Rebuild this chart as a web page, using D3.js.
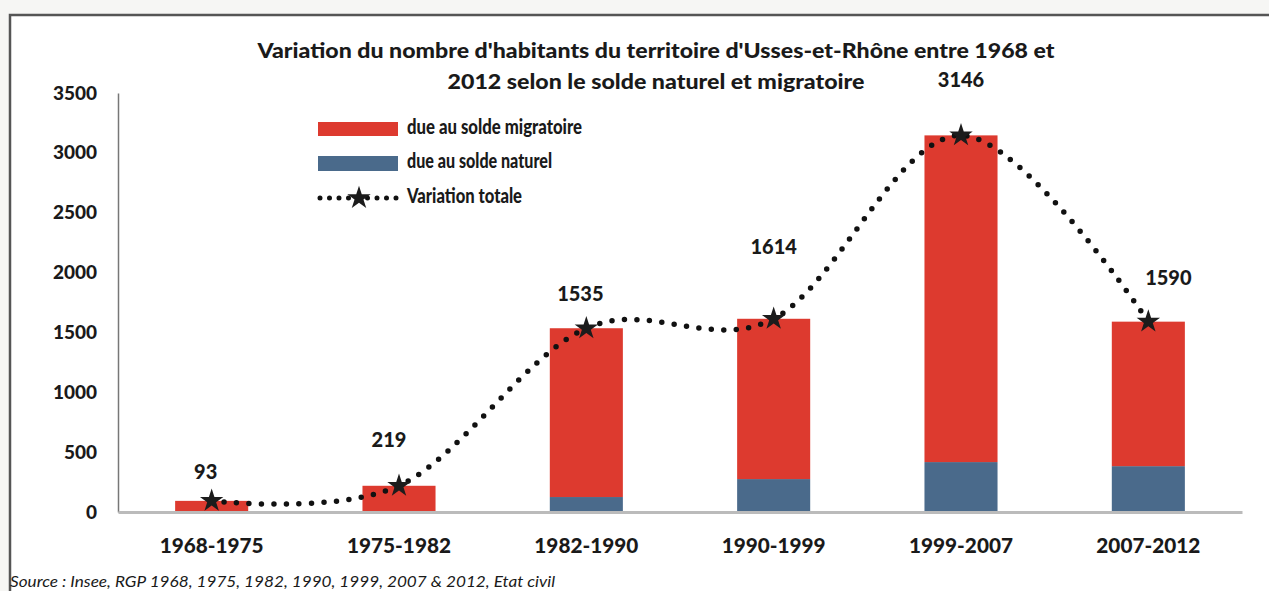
<!DOCTYPE html>
<html>
<head>
<meta charset="utf-8">
<script src="https://cdn.jsdelivr.net/npm/d3@7"></script>
<style>
  html, body { margin: 0; padding: 0; background: #f6f6f4; }
  svg { display: block; }
  text { font-family: Lato, "Open Sans", sans-serif; fill: #1a1a1a; }
</style>
</head>
<body>
<svg id="chart"></svg>
<script>
// values
const periods = ['1968-1975', '1975-1982', '1982-1990', '1990-1999', '1999-2007', '2007-2012'];
const natural = [0, 0, 125, 275, 417, 383];
const migratory = [93, 219, 1410, 1339, 2729, 1207];
const totals = [93, 219, 1535, 1614, 3146, 1590];
const yTicks = [0, 500, 1000, 1500, 2000, 2500, 3000, 3500];

// manual nudges of the total labels, as in the original sheet
const labelDx = [-6, -10, -6, 0, 0, 20];
const labelDy = [-27, -44, -32, -70, -54, -42];

const W = 1269, H = 591;
const svg = d3.select('#chart').attr('width', W).attr('height', H);

// frame of the chart
svg.append('rect').attr('x', 10).attr('y', 15).attr('width', W).attr('height', H)
   .attr('fill', '#ffffff').attr('stroke', '#555').attr('stroke-width', 2.5);

const x = d3.scaleBand().domain(periods).range([118, 1242]).paddingInner(0.61).paddingOuter(0.305);
const y = d3.scaleLinear().domain([0, 3500]).range([512, 93]);

// y axis
const yAxis = svg.append('g').attr('transform', 'translate(118,0)')
   .call(d3.axisLeft(y).tickValues(yTicks).tickFormat(d3.format('d')).tickSize(0).tickPadding(21));
yAxis.select('.domain').attr('stroke', '#777').attr('stroke-width', 1.5);
yAxis.selectAll('text').style('font-size', '19px').style('font-weight', 900)
   .style('font-family', 'Lato, sans-serif').attr('fill', '#1a1a1a');

// bars
const rows = periods.map((p, i) => ({p: p, nat: natural[i], mig: migratory[i]}));
svg.append('g').selectAll('rect').data(rows).join('rect')
   .attr('x', d => x(d.p)).attr('width', x.bandwidth())
   .attr('y', d => y(d.nat)).attr('height', d => y(0) - y(d.nat))
   .attr('fill', '#4a6a8b');
svg.append('g').selectAll('rect').data(rows).join('rect')
   .attr('x', d => x(d.p)).attr('width', x.bandwidth())
   .attr('y', d => y(d.nat + d.mig)).attr('height', d => y(d.nat) - y(d.nat + d.mig))
   .attr('fill', '#dd3a2f');

// x axis baseline
const xAxis = svg.append('g').attr('transform', `translate(0,${y(0)})`)
   .call(d3.axisBottom(x).tickSize(0).tickPadding(26));
xAxis.select('.domain').attr('stroke', '#bbb').attr('stroke-width', 3);
xAxis.selectAll('text').style('font-size', '21px').style('font-weight', 900)
   .style('font-family', 'Lato, sans-serif').attr('fill', '#1a1a1a')
   .attr('textLength', 104).attr('lengthAdjust', 'spacingAndGlyphs');

// total variation line
const pts = periods.map((p, i) => [x(p) + x.bandwidth() / 2, y(totals[i])]);
svg.append('path').attr('d', d3.line().curve(d3.curveCatmullRom.alpha(0))(pts))
   .attr('fill', 'none').attr('stroke', '#111').attr('stroke-width', 5.5)
   .attr('stroke-linecap', 'round').attr('stroke-dasharray', '0,12.5');
svg.append('g').selectAll('path').data(pts).join('path')
   .attr('transform', d => `translate(${d[0]},${d[1]})`)
   .attr('d', d3.symbol(d3.symbolStar, 170))
   .attr('fill', '#1c1c1c');

svg.append('g').selectAll('text').data(pts).join('text')
   .attr('x', (d, i) => d[0] + labelDx[i]).attr('y', (d, i) => d[1] + labelDy[i])
   .attr('text-anchor', 'middle').attr('dominant-baseline', 'middle')
   .style('font-size', '20px').style('font-weight', 900)
   .text((d, i) => totals[i]);

// title
const title = ["Variation du nombre d'habitants du territoire d'Usses-et-Rhône entre 1968 et",
               "2012 selon le solde naturel et migratoire"];
svg.append('text').attr('x', 656).attr('y', 58).attr('text-anchor', 'middle')
   .style('font-size', '21px').style('font-weight', 900)
   .attr('textLength', 797).attr('lengthAdjust', 'spacingAndGlyphs').text(title[0]);
svg.append('text').attr('x', 656).attr('y', 89).attr('text-anchor', 'middle')
   .style('font-size', '21px').style('font-weight', 900)
   .attr('textLength', 417).attr('lengthAdjust', 'spacingAndGlyphs').text(title[1]);

// legend
const legend = svg.append('g');
legend.append('rect').attr('x', 318).attr('y', 122).attr('width', 80).attr('height', 14).attr('fill', '#dd3a2f');
legend.append('rect').attr('x', 318).attr('y', 156).attr('width', 80).attr('height', 15).attr('fill', '#4a6a8b');
legend.append('line').attr('x1', 320).attr('x2', 398).attr('y1', 198).attr('y2', 198)
   .attr('stroke', '#111').attr('stroke-width', 5).attr('stroke-linecap', 'round')
   .attr('stroke-dasharray', '0,9.5');
legend.append('path').attr('transform', 'translate(359,198)')
   .attr('d', d3.symbol(d3.symbolStar, 170)).attr('fill', '#1c1c1c');
const legendText = ['due au solde migratoire', 'due au solde naturel', 'Variation totale'];
const legendLen = [175, 145, 115];
legend.selectAll('text').data(legendText).join('text')
   .attr('x', 407).attr('y', (d, i) => [129, 163, 198][i]).attr('dominant-baseline', 'middle')
   .style('font-size', '20px').style('font-weight', 900)
   .attr('textLength', (d, i) => legendLen[i]).attr('lengthAdjust', 'spacingAndGlyphs')
   .text(d => d);

// source
svg.append('text').attr('x', 10).attr('y', 587)
   .style('font-size', '16px').style('font-style', 'italic')
   .attr('textLength', 545).attr('lengthAdjust', 'spacingAndGlyphs')
   .text('Source : Insee, RGP 1968, 1975, 1982, 1990, 1999, 2007 & 2012, Etat civil');
</script>
</body>
</html>
